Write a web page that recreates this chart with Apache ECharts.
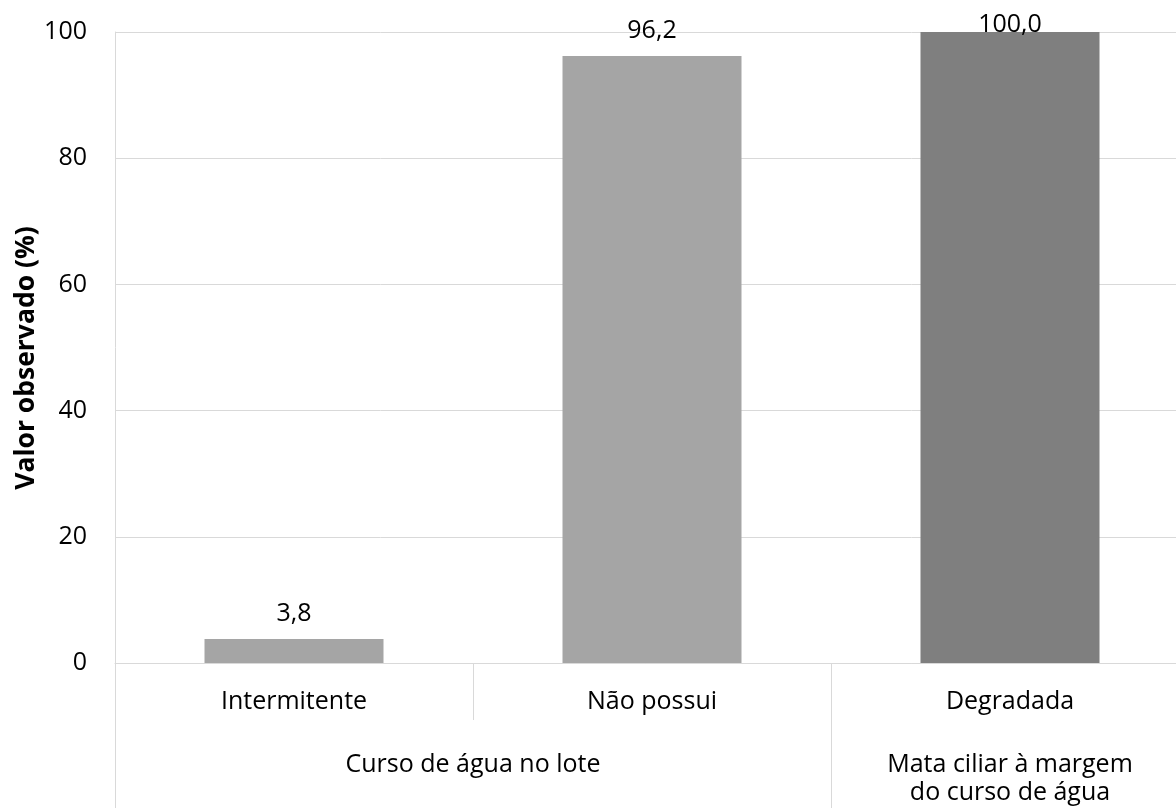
<!DOCTYPE html>
<html>
<head>
<meta charset="utf-8">
<script src="https://cdn.jsdelivr.net/npm/echarts@6/dist/echarts.min.js"></script>
<style>
html,body{margin:0;padding:0;background:#fff;}
#chart{width:1176px;height:808px;}
</style>
</head>
<body>
<div id="chart"></div>
<script>
const categories = ['Intermitente', 'Não possui', 'Degradada'];
const groups = ['Curso de água no lote', 'Curso de água no lote', 'Mata ciliar à margem\ndo curso de água'];
const values = [3.8, 96.2, 100.0];
const yTicks = [0, 20, 40, 60, 80, 100];
const yTitle = 'Valor observado (%)';

const FONT = '"Open Sans"';
const FS = 25;
const groupNames = [...new Set(groups)];
const spans = groupNames.map(g => {
  const idx = groups.map((x, i) => x === g ? i : -1).filter(i => i >= 0);
  return { name: g, start: idx[0], end: idx[idx.length - 1] + 1 };
});
const groupCenters = spans.map(s => (s.start + s.end) / 2);
const groupBounds = spans.map(s => s.start);

const chart = echarts.init(document.getElementById('chart'), null, { renderer: 'canvas' });
chart.setOption({
  backgroundColor: '#fff',
  animation: false,
  grid: { left: 115, width: 1074, top: 32, bottom: 145, containLabel: false, outerBoundsMode: 'none' },
  graphic: [{
    type: 'text',
    x: 26, y: 358,
    rotation: Math.PI / 2,
    style: {
      text: yTitle, fontFamily: FONT, fontSize: 26.5, fontWeight: 'bold', fill: '#000',
      align: 'center', verticalAlign: 'middle'
    }
  }],
  xAxis: [
    {
      type: 'category',
      data: categories,
      position: 'bottom',
      axisLine: { show: true, lineStyle: { color: '#D9D9D9', width: 1 } },
      axisTick: { show: true, interval: 0, length: 57, lineStyle: { color: '#D9D9D9' } },
      axisLabel: { interval: 0, margin: 24, lineHeight: 30, fontFamily: FONT, fontSize: FS, color: '#000' }
    },
    {
      type: 'value',
      min: 0,
      max: categories.length,
      position: 'bottom',
      axisLine: { show: false },
      splitLine: { show: false },
      axisTick: { show: true, customValues: groupBounds, length: 145, lineStyle: { color: '#D9D9D9' } },
      axisLabel: {
        customValues: groupCenters,
        margin: 88,
        fontFamily: FONT, fontSize: FS, color: '#000', lineHeight: 28, align: 'center',
        formatter: v => {
          const i = groupCenters.indexOf(v);
          return i >= 0 ? spans[i].name : '';
        }
      }
    }
  ],
  yAxis: {
    type: 'value',
    min: yTicks[0],
    max: yTicks[yTicks.length - 1],
    interval: yTicks[1] - yTicks[0],
    axisLine: { show: true, lineStyle: { color: '#D9D9D9' } },
    axisTick: { show: false },
    axisLabel: { margin: 28, fontFamily: FONT, fontSize: FS, color: '#000' },
    splitLine: { show: true, lineStyle: { color: '#D9D9D9', width: 1 } }
  },
  series: [{
    type: 'bar',
    xAxisIndex: 0,
    barWidth: '50%',
    data: values.map((v, i) => ({
      value: v,
      itemStyle: { color: groups[i] === groupNames[0] ? '#A5A5A5' : '#7F7F7F' },
      label: { distance: v >= yTicks[yTicks.length - 1] ? -5 : 13 }
    })),
    label: {
      show: true,
      position: 'top',
      fontFamily: FONT,
      fontSize: FS,
      color: '#000',
      formatter: p => p.value.toFixed(1).replace('.', ',')
    }
  }]
});
</script>
</body>
</html>
